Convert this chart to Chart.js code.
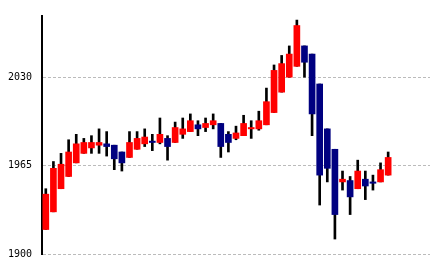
<!DOCTYPE html>
<html>
<head>
<meta charset="utf-8">
<script src="https://cdn.jsdelivr.net/npm/chart.js@4/dist/chart.umd.min.js"></script>
<style>
    html, body { margin: 0; padding: 0; background: #fff; }
    #wrap { width: 434px; height: 270px; }
</style>
</head>
<body>
<div id="wrap"><canvas id="candles"></canvas></div>
<script>
// 46 sessions, the last 5 slots on the axis stay empty
const days = Array.from({length: 51}, (_, i) => String(i + 1));

const opens  = [1918, 1931, 1948, 1957, 1967, 1974, 1978, 1980, 1981, 1980, 1975, 1971, 1977, 1981, 1983, 1982,
                1985, 1982, 1988, 1990, 1995, 1993, 1995, 1996, 1988, 1985, 1987, 1992, 1992, 1995, 2004, 2019,
                2030, 2038, 2053, 2047, 2025, 1992, 1977, 1953, 1954, 1948, 1955, 1953, 1953, 1958];
const highs  = [1948, 1968, 1974, 1984, 1988, 1985, 1987, 1992, 1990, 1980, 1975, 1990, 1990, 1992, 1988, 2000,
                1987, 1997, 2000, 2003, 1998, 2000, 2003, 1996, 1990, 1994, 2002, 1998, 2005, 2022, 2039, 2046,
                2053, 2072, 2053, 2047, 2025, 1992, 1977, 1961, 1957, 1969, 1961, 1958, 1967, 1975];
const lows   = [1918, 1931, 1948, 1957, 1967, 1974, 1974, 1974, 1972, 1962, 1961, 1971, 1977, 1979, 1976, 1981,
                1969, 1982, 1985, 1990, 1987, 1990, 1992, 1971, 1975, 1984, 1987, 1985, 1991, 1995, 2004, 2019,
                2030, 2038, 2030, 1987, 1936, 1953, 1911, 1947, 1929, 1948, 1940, 1947, 1953, 1958];
const closes = [1944, 1963, 1966, 1975, 1981, 1982, 1982, 1982, 1979, 1970, 1967, 1982, 1985, 1986, 1982, 1988,
                1979, 1993, 1992, 1998, 1992, 1996, 1998, 1979, 1982, 1989, 1996, 1993, 1998, 2012, 2035, 2040,
                2047, 2068, 2041, 2003, 1958, 1963, 1929, 1955, 1942, 1961, 1950, 1952, 1962, 1971];

const yTicks = [1900, 1965, 2030];
const yMin = 1900;
const yMax = 2075;

const upColor = "#FF0000";
const downColor = "#000080";

const bodyColors = opens.map((o, i) => closes[i] >= o ? upColor : downColor);

new Chart(document.getElementById("candles"), {
    type: "bar",
    data: {
        labels: days,
        datasets: [
            {
                label: "body",
                data: opens.map((o, i) => [o, closes[i]]),
                backgroundColor: bodyColors,
                barThickness: 6,
                grouped: false,
                order: 0
            },
            {
                label: "wick",
                data: lows.map((l, i) => [l, highs[i]]),
                backgroundColor: "#000000",
                barThickness: 2,
                grouped: false,
                order: 1
            }
        ]
    },
    options: {
        responsive: true,
        maintainAspectRatio: false,
        animation: false,
        layout: {
            padding: {top: 15, right: 4, bottom: 14, left: 0}
        },
        plugins: {
            legend: {display: false},
            tooltip: {enabled: false}
        },
        scales: {
            x: {
                display: false
            },
            y: {
                min: yMin,
                max: yMax,
                afterFit: scale => { scale.width = 42; },
                afterBuildTicks: scale => {
                    scale.ticks = yTicks.map(v => ({value: v}));
                },
                grid: {
                    display: true,
                    drawOnChartArea: true,
                    color: "#bbbbbb",
                    lineWidth: 1,
                    drawTicks: false
                },
                border: {
                    display: true,
                    color: "#000000",
                    width: 2,
                    dash: [3, 2]
                },
                ticks: {
                    padding: 10,
                    color: "#000000",
                    font: {family: "DejaVu Sans Mono", size: 10},
                    callback: v => String(v)
                }
            }
        }
    }
});
</script>
</body>
</html>
